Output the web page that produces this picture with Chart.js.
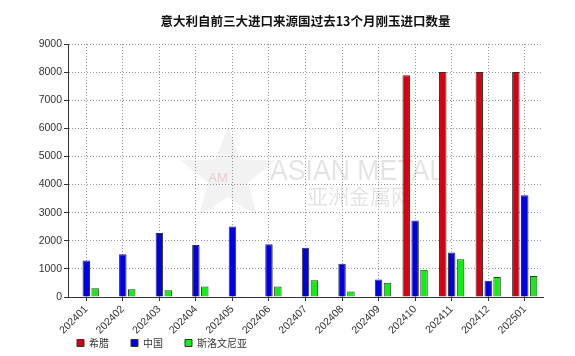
<!DOCTYPE html>
<html><head><meta charset="utf-8">
<script src="https://cdn.jsdelivr.net/npm/chart.js@4.4.1/dist/chart.umd.min.js"></script>
<style>html,body{margin:0;padding:0;background:#fff;}#wrap{width:575px;height:356px;}</style>
</head><body><div id="wrap"><canvas id="c" width="575" height="356"></canvas></div>
<script>
const categories = ['202401','202402','202403','202404','202405','202406','202407','202408','202409','202410','202411','202412','202501'];
const greece   = [0,0,0,0,0,0,0,0,0,7890,8000,8000,8000];
const china    = [1300,1520,2280,1850,2510,1880,1750,1180,620,2720,1580,580,3620];
const slovenia = [310,275,240,370,30,370,600,200,510,970,1340,710,750];
const seriesNames = ['希腊','中国','斯洛文尼亚'];
const titleText = '意大利自前三大进口来源国过去13个月刚玉进口数量';
const yMin = 0, yMax = 9000, yStep = 1000;

const watermark = {
  id: 'wm',
  beforeDatasetsDraw(chart) {
    const ctx = chart.ctx;
    ctx.save();
    const cx = 228, cy = 176, R = 50, r = 21;
    ctx.beginPath();
    for (let i = 0; i < 10; i++) {
      const rad = i % 2 ? r : R;
      const a = -Math.PI / 2 + i * Math.PI / 5;
      ctx.lineTo(cx + rad * Math.cos(a), cy + rad * Math.sin(a));
    }
    ctx.closePath();
    ctx.fillStyle = 'rgba(0,0,0,0.05)';
    ctx.fill();
    ctx.font = '13px "Liberation Sans"';
    ctx.fillStyle = 'rgba(200,40,40,0.2)';
    ctx.textAlign = 'center';
    ctx.textBaseline = 'middle';
    ctx.fillText('AM', 218, 178);
    ctx.fillStyle = 'rgba(0,0,0,0.11)';
    ctx.textAlign = 'left';
    ctx.textBaseline = 'alphabetic';
    ctx.font = '30px "Liberation Sans"';
    ctx.fillText('ASIAN METAL', 270, 180, 174);
    ctx.font = '21px "Noto Sans CJK SC"';
    ctx.fillText('亚洲金属网', 307, 204, 112);
    ctx.restore();
  }
};

// place the legend row like the reference (below the rotated labels)
const legendPlace = {
  id: 'legendPlace',
  afterLayout(chart) {
    const lg = chart.legend;
    if (!lg) return;
    const pad = lg.options.labels.padding;
    const dx = 77 - (lg.left + pad);
    lg.left += dx; lg.right = 575;
    lg.top = 316; lg.bottom = 356;
    lg.height = lg.bottom - lg.top; lg.width = lg.right - lg.left;
  }
};

const fontFam = '"Liberation Sans", Arial, sans-serif';
new Chart(document.getElementById('c'), {
  type: 'bar',
  data: {
    labels: categories,
    datasets: [
      { label: seriesNames[0], data: greece,   backgroundColor: '#d50010', borderColor: '#333', borderWidth: 1 },
      { label: seriesNames[1], data: china,    backgroundColor: '#0000e0', borderColor: '#333', borderWidth: 1 },
      { label: seriesNames[2], data: slovenia, backgroundColor: '#11ee11', borderColor: '#333', borderWidth: 1 }
    ]
  },
  options: {
    responsive: false,
    animation: false,
    devicePixelRatio: 1,
    categoryPercentage: 0.73,
    barPercentage: 0.84,
    layout: { padding: { left: 34, right: 32, top: 0, bottom: 0 } },
    plugins: {
      title: {
        display: true, text: titleText, fullSize: false,
        color: '#111', font: { size: 12.5, weight: 'bold', family: '"Noto Sans CJK SC", sans-serif', lineHeight: 1.2 },
        padding: { top: 14, bottom: 15 }
      },
      legend: {
        position: 'bottom', align: 'start', fullSize: true, maxHeight: 22,
        labels: {
          boxWidth: 7, boxHeight: 7, padding: 22, color: '#333',
          font: { size: 10, family: '"Noto Sans CJK SC", sans-serif' }
        }
      },
      tooltip: { enabled: false }
    },
    scales: {
      x: {
        offset: true,
        grid: { offset: false, color: '#999', tickColor: '#333', tickLength: 4, tickBorderDash: [] },
        border: { display: true, color: '#333', width: 1, dash: [1, 2] },
        ticks: { color: '#333', minRotation: 45, maxRotation: 45, autoSkip: false, padding: 2, font: { size: 10.5, family: fontFam } },
        afterFit(s) { s.height = 37; }
      },
      y: {
        min: yMin, max: yMax,
        grid: { color: '#999', tickColor: '#333', tickLength: 4, tickBorderDash: [] },
        border: { display: true, color: '#333', width: 1, dash: [1, 2] },
        ticks: { stepSize: yStep, color: '#333', padding: 2, font: { size: 10.5, family: fontFam },
                 callback: v => String(v) },
        afterFit(s) { s.width = 34; }
      }
    }
  },
  plugins: [watermark, legendPlace]
});
</script>
</body></html>
